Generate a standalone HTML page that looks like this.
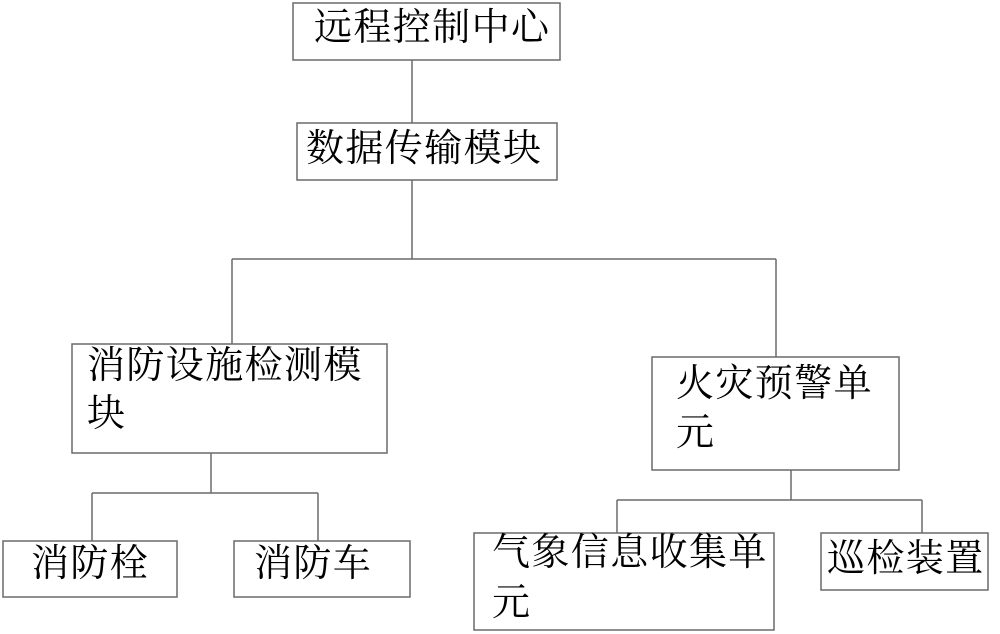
<!DOCTYPE html>
<html>
<head>
<meta charset="utf-8">
<style>
html,body{margin:0;padding:0;background:#fff;}
#c{position:relative;width:1000px;height:634px;overflow:hidden;background:#fff;}
svg{position:absolute;left:0;top:0;}
.t{position:absolute;font-family:"Liberation Serif","Noto Serif CJK SC",serif;font-size:38px;line-height:38px;letter-spacing:1.4px;color:#000;white-space:nowrap;}
</style>
</head>
<body>
<div id="c">
<svg width="1000" height="634" viewBox="0 0 1000 634">
<g fill="none" stroke="#6a6a6a" stroke-width="1.5">
<rect x="293" y="3" width="267" height="57"/>
<rect x="297" y="123" width="260" height="57"/>
<rect x="72" y="344" width="315" height="109"/>
<rect x="652" y="357" width="247" height="113"/>
<rect x="3" y="541" width="174" height="56"/>
<rect x="234" y="541" width="176" height="56"/>
<rect x="474" y="533" width="300" height="97"/>
<rect x="821" y="533" width="167" height="57"/>
<line x1="412" y1="60" x2="412" y2="123"/>
<line x1="412" y1="180" x2="412" y2="259"/>
<line x1="232" y1="259" x2="776" y2="259"/>
<line x1="232" y1="259" x2="232" y2="344"/>
<line x1="776" y1="259" x2="776" y2="357"/>
<line x1="211" y1="453" x2="211" y2="493"/>
<line x1="92" y1="493" x2="318" y2="493"/>
<line x1="92" y1="493" x2="92" y2="541"/>
<line x1="318" y1="493" x2="318" y2="541"/>
<line x1="791" y1="470" x2="791" y2="500"/>
<line x1="617" y1="500" x2="922" y2="500"/>
<line x1="617" y1="500" x2="617" y2="533"/>
<line x1="922" y1="500" x2="922" y2="533"/>
</g>
</svg>
<div class="t" style="left:314px;top:9px;">远程控制中心</div>
<div class="t" style="left:306px;top:130px;">数据传输模块</div>
<div class="t" style="left:87px;top:347px;">消防设施检测模</div>
<div class="t" style="left:87px;top:395px;">块</div>
<div class="t" style="left:676px;top:365px;">火灾预警单</div>
<div class="t" style="left:676px;top:414px;">元</div>
<div class="t" style="left:31px;top:545px;">消防栓</div>
<div class="t" style="left:254px;top:545px;">消防车</div>
<div class="t" style="left:492px;top:534px;">气象信息收集单</div>
<div class="t" style="left:492px;top:584px;">元</div>
<div class="t" style="left:827px;top:540px;">巡检装置</div>
</div>
</body>
</html>
